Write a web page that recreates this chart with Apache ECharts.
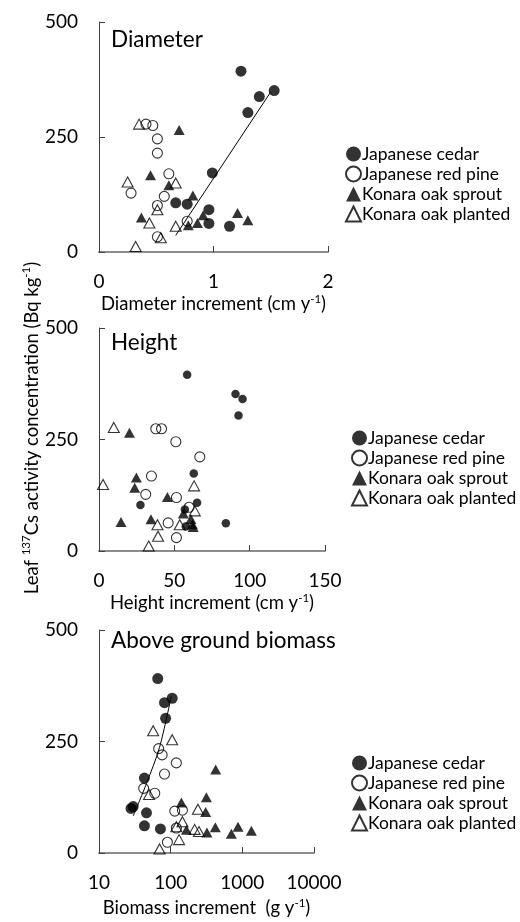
<!DOCTYPE html>
<html><head><meta charset="utf-8">
<script src="https://cdn.jsdelivr.net/npm/echarts@6/dist/echarts.min.js"></script>
<style>html,body{margin:0;padding:0;background:#fff}#c{width:520px;height:922px}</style>
</head><body><div id="c"></div>
<script>
const seriesNames = ['Japanese cedar', 'Japanese red pine', 'Konara oak sprout', 'Konara oak planted'];
const panelTitles = ['Diameter', 'Height', 'Above ground biomass'];
const yTicks = [0, 250, 500];
const diamTicks = [0, 1, 2];
const heightTicks = [0, 50, 100, 150];
const biomassTicks = [10, 100, 1000, 10000];

// Panel 1: diameter increment (cm/y) vs leaf 137Cs (Bq/kg)
const diamCedar = [[1.24,393],[1.53,351],[1.40,338],[1.30,303],[0.99,172],[0.67,107],[0.77,104],[0.96,92],[0.96,62],[1.14,56]];
const diamPine = [[0.41,278],[0.47,275],[0.51,246],[0.51,215],[0.61,170],[0.28,128],[0.57,121],[0.51,101],[0.77,67],[0.51,33]];
const diamSprout = [[0.70,265],[0.45,167],[0.61,145],[0.82,123],[0.37,75],[0.91,80],[0.86,63],[0.78,58],[1.21,85],[1.30,69]];
const diamPlanted = [[0.35,278],[0.25,152],[0.67,150],[0.51,92],[0.44,63],[0.67,56],[0.54,31],[0.32,12]];
const diamTrend = [[0.67,36],[1.50,348]];

// Panel 2: height increment (cm/y)
const heightCedar = [[58.5,395],[90.6,352],[95.3,341],[92.6,304],[62.9,174],[65.1,108],[27.5,103],[57,93],[84.2,62],[57.6,55]];
const heightPine = [[37.7,274],[41.5,274],[51,245],[66.9,211],[34.8,168],[31,127],[51.4,120],[59.8,98],[45.9,63],[51.4,30]];
const heightSprout = [[20.2,265],[24.8,165],[23.7,142],[45.4,121],[14.6,65],[34.5,71],[56,84],[61,72],[62,60],[62.5,54]];
const heightPlanted = [[9.8,277],[2.7,149],[63.1,146],[63.6,90],[38.8,59],[53.6,59],[39.2,33],[33,11]];

// Panel 3: biomass increment (g/y), log axis
const biomassCedar = [[66,391],[105,347],[82,337],[85,302],[43,168],[30,104],[28,100],[46,90],[43,61],[72,54]];
const biomassPine = [[68,234],[76,220],[120,202],[82,177],[42,145],[60,134],[114,94],[146,96],[120,56],[90,24]];
const biomassSprout = [[425,187],[315,125],[141,113],[308,92],[166,52],[321,46],[420,58],[703,43],[871,59],[1337,50]];
const biomassPlanted = [[57,274],[105,254],[50,131],[240,98],[146,70],[120,59],[216,53],[248,48],[131,30],[70,9]];
const biomassTrend = [[30,83],[46,156],[70,237],[102,352]];

const FONT = 'Lato';
const grids = [
  {left: 99, top: 22, width: 229, height: 230},
  {left: 99, top: 328, width: 226, height: 223},
  {left: 99, top: 630, width: 215, height: 223}
];
const axisLineX = {lineStyle: {color: '#8c8c8c', width: 2}};
const axisLineY = {lineStyle: {color: '#404040', width: 1}};
const tick = {inside: true, length: 6, lineStyle: {color: '#404040', width: 1}};
const lbl = {color: '#000', fontFamily: FONT, fontSize: 19};
const rich = {
  n: {fontFamily: FONT, fontSize: 18.5, color: '#000', lineHeight: 22},
  s: {fontFamily: FONT, fontSize: 11.5, color: '#000', lineHeight: 13, verticalAlign: 'top'}
};

function xAx(i, extra) {
  return Object.assign({
    gridIndex: i, axisLine: axisLineX, axisTick: tick,
    axisLabel: Object.assign({}, lbl, {margin: 20, formatter: v => String(v)}), splitLine: {show: false},
    nameLocation: 'middle', nameGap: 41, nameTextStyle: {rich: rich}
  }, extra);
}
function yAx(i, extra) {
  return Object.assign({
    gridIndex: i, type: 'value', min: yTicks[0], max: yTicks[2], interval: yTicks[1] - yTicks[0],
    axisLine: Object.assign({show: true}, axisLineY), axisTick: Object.assign({show: true}, tick),
    axisLabel: Object.assign({}, lbl, {margin: 21}), splitLine: {show: false}
  }, extra);
}

const styles = [
  {symbol: 'circle', size: 11, itemStyle: {color: '#000'}},
  {symbol: 'circle', size: 10, itemStyle: {color: 'transparent', borderColor: '#000', borderWidth: 1.1}},
  {symbol: 'triangle', size: [11, 10], itemStyle: {color: '#000'}},
  {symbol: 'triangle', size: [11, 10], itemStyle: {color: 'transparent', borderColor: '#000', borderWidth: 1.1}}
];
const panelData = [
  [diamCedar, diamPine, diamSprout, diamPlanted],
  [heightCedar, heightPine, heightSprout, heightPlanted],
  [biomassCedar, biomassPine, biomassSprout, biomassPlanted]
];
const series = [];
panelData.forEach((arrs, p) => {
  arrs.forEach((d, k) => {
    const st = styles[k];
    let size = st.size;
    if (p === 1 && k === 0) size = 8.5;
    series.push({
      type: 'scatter', name: seriesNames[k], xAxisIndex: p, yAxisIndex: p,
      data: d, symbol: st.symbol, symbolSize: size, itemStyle: st.itemStyle,
      emphasis: {disabled: true}, z: 3
    });
  });
});
series.push({type: 'line', name: 'trend1', xAxisIndex: 0, yAxisIndex: 0, data: diamTrend,
  showSymbol: false, symbol: 'none', lineStyle: {color: '#000', width: 1}, z: 2, silent: true});
series.push({type: 'line', name: 'trend3', xAxisIndex: 2, yAxisIndex: 2, data: biomassTrend,
  showSymbol: false, symbol: 'none', smooth: 0.3, lineStyle: {color: '#000', width: 1}, z: 2, silent: true});

function legendAt(left, top) {
  return {
    data: seriesNames.slice(),
    orient: 'vertical', left: left, top: top, itemWidth: 15, itemHeight: 15, itemGap: 0, padding: 0,
    selectedMode: false,
    textStyle: {fontFamily: FONT, fontSize: 17.5, color: '#000', lineHeight: 20, padding: [0, 0, 0, -4]}
  };
}

const option = {
  animation: false,
  backgroundColor: '#fff',
  title: panelTitles.map((t, i) => ({
    text: t, left: 111, top: [27, 330, 628][i], padding: 0,
    textStyle: {fontFamily: FONT, fontSize: 22.5, fontWeight: 'normal', color: '#000', lineHeight: 26}
  })),
  legend: [legendAt(345, 144), legendAt(351, 428), legendAt(351, 753)],
  grid: grids.map(g => Object.assign({containLabel: false, outerBoundsMode: 'none'}, g)),
  xAxis: [
    xAx(0, {type: 'value', min: diamTicks[0], max: diamTicks[2], interval: 1,
      name: '{n|Diameter increment (cm y}{s|-1}{n|)}'}),
    xAx(1, {type: 'value', min: heightTicks[0], max: heightTicks[3], interval: 50,
      name: '{n|Height increment (cm y}{s|-1}{n|)}'}),
    xAx(2, {type: 'log', logBase: 10, min: biomassTicks[0], max: biomassTicks[3],
      name: '{n|Biomass increment  (g y}{s|-1}{n|)}', nameGap: 44, minorTick: {show: false}})
  ],
  yAxis: [
    yAx(0, {}),
    yAx(1, {name: '{n|Leaf }{s|137}{n|Cs activity concentration (Bq kg}{s|-1}{n|)}',
      nameLocation: 'middle', nameGap: 56, nameRotate: 90,
      nameTextStyle: {rich: rich, padding: [0, 0, 0, 23]}}),
    yAx(2, {})
  ],
  series: series
};
const chart = echarts.init(document.getElementById('c'), null, {renderer: 'canvas'});
chart.setOption(option);
</script></body></html>
